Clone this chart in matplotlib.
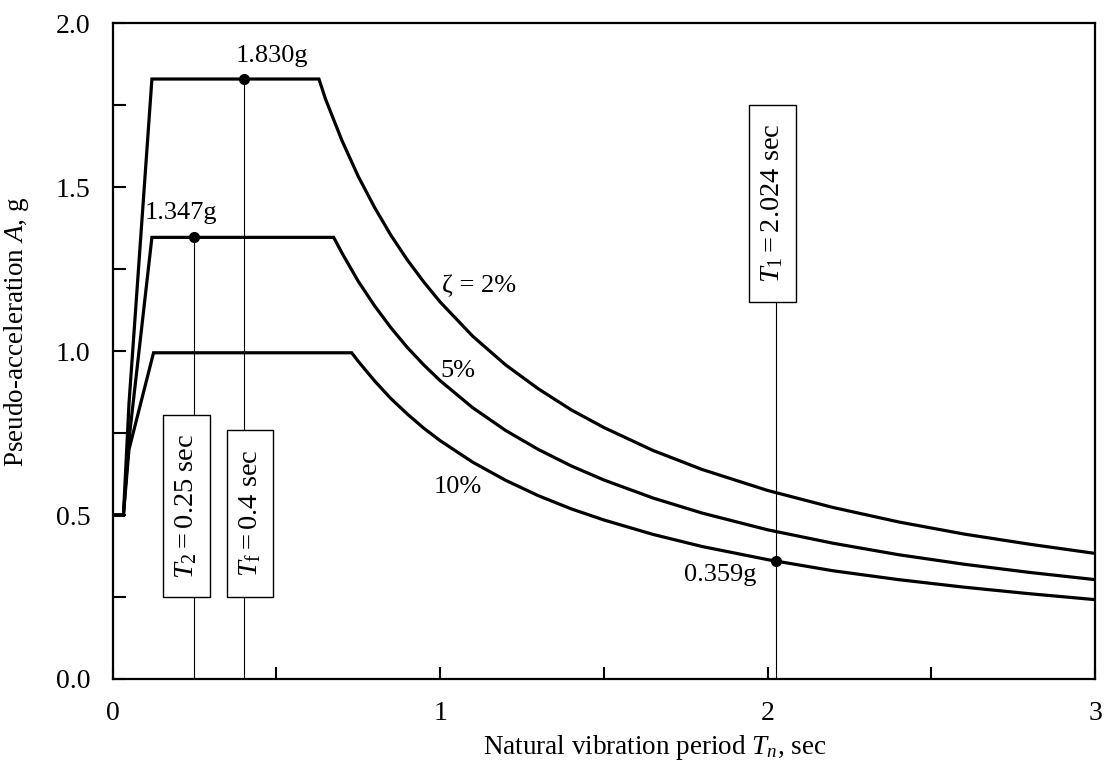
import matplotlib
matplotlib.use("Agg")
import matplotlib.pyplot as plt
from matplotlib.patches import Rectangle
from matplotlib.ticker import MultipleLocator, FuncFormatter

plt.rcParams['font.family'] = ['Liberation Serif', 'DejaVu Serif']
plt.rcParams['mathtext.fontset'] = 'custom'
plt.rcParams['mathtext.rm'] = 'Liberation Serif'
plt.rcParams['mathtext.it'] = 'Liberation Serif:italic'

# Spectrum values (T in sec, A in g)
T_2pct = [0.0, 0.033, 0.05, 0.12, 0.63, 0.65, 0.7, 0.75, 0.8, 0.85, 0.9, 0.95, 1.0, 1.1, 1.2, 1.3,
          1.4, 1.5, 1.65, 1.8, 2.0, 2.2, 2.4, 2.6, 2.8, 3.0]
A_2pct = [0.5, 0.5, 0.84, 1.83, 1.83, 1.769, 1.643, 1.533, 1.438, 1.353, 1.278, 1.211, 1.15, 1.045,
          0.958, 0.885, 0.821, 0.767, 0.697, 0.639, 0.575, 0.523, 0.479, 0.442, 0.411, 0.383]

T_5pct = [0.0, 0.033, 0.05, 0.12, 0.675, 0.7, 0.75, 0.8, 0.85, 0.9, 0.95, 1.0, 1.1, 1.2, 1.3,
          1.4, 1.5, 1.65, 1.8, 2.0, 2.2, 2.4, 2.6, 2.8, 3.0]
A_5pct = [0.5, 0.5, 0.73, 1.347, 1.347, 1.30, 1.213, 1.138, 1.071, 1.011, 0.958, 0.91, 0.827,
          0.758, 0.70, 0.65, 0.607, 0.552, 0.506, 0.455, 0.414, 0.379, 0.35, 0.325, 0.303]

T_10pct = [0.0, 0.033, 0.05, 0.125, 0.73, 0.75, 0.8, 0.85, 0.9, 0.95, 1.0, 1.1, 1.2, 1.3,
           1.4, 1.5, 1.65, 1.8, 2.0, 2.2, 2.4, 2.6, 2.8, 3.0]
A_10pct = [0.5, 0.5, 0.70, 0.995, 0.995, 0.969, 0.909, 0.855, 0.808, 0.765, 0.727, 0.661,
           0.606, 0.559, 0.519, 0.485, 0.441, 0.404, 0.364, 0.330, 0.303, 0.280, 0.260, 0.242]

# Marked periods and their spectral values
mark_T = [0.4, 0.25, 2.024]
mark_A = [1.830, 1.347, 0.359]
mark_text = ["1.830g", "1.347g", "0.359g"]

fig = plt.figure(figsize=(11.04, 7.66), dpi=100)
ax = fig.add_axes([0.102, 0.1136, 0.890, 0.856])

for T, A in [(T_2pct, A_2pct), (T_5pct, A_5pct), (T_10pct, A_10pct)]:
    ax.plot(T, A, color='black', lw=2.3, solid_joinstyle='miter', zorder=3)

# thin vertical lines at the periods
ax.plot([mark_T[0], mark_T[0]], [0, mark_A[0]], color='black', lw=0.8, zorder=2)
ax.plot([mark_T[1], mark_T[1]], [0, mark_A[1]], color='black', lw=0.8, zorder=2)
ax.plot([mark_T[2], mark_T[2]], [0, 1.15], color='black', lw=0.8, zorder=2)
ax.plot(mark_T, mark_A, 'o', color='black', ms=7, zorder=5)

fs = 19
ax.text(0.486, 1.90, mark_text[0], fontsize=fs, ha='center', va='center')
ax.text(0.21, 1.42, mark_text[1], fontsize=fs, ha='center', va='center')
ax.text(1.855, 0.317, mark_text[2], fontsize=fs, ha='center', va='center')

# period boxes: (left, right, bottom, top) in data units
boxes = [
    ((0.153, 0.297, 0.25, 0.805), r"$T_2 = 0.25$ sec"),
    ((0.349, 0.489, 0.25, 0.76), r"$T_{\mathrm{f}} = 0.4$ sec"),
    ((1.942, 2.086, 1.15, 1.75), r"$T_1 = 2.024$ sec"),
]
for (x0, x1, y0, y1), label in boxes:
    ax.add_patch(Rectangle((x0, y0), x1 - x0, y1 - y0, fc='white', ec='black', lw=1.0, zorder=4))
    ax.text((x0 + x1) / 2, (y0 + y1) / 2, label, fontsize=20.5, rotation=90,
            ha='center', va='center', zorder=6)

# damping labels
ax.text(1.12, 1.20, "ζ = 2%", fontsize=fs, ha='center', va='center')
ax.text(1.055, 0.94, "5%", fontsize=fs, ha='center', va='center')
ax.text(1.055, 0.585, "10%", fontsize=fs, ha='center', va='center')

ax.set_xlim(0, 3)
ax.set_ylim(0, 2)
ax.xaxis.set_major_locator(MultipleLocator(1))
ax.xaxis.set_minor_locator(MultipleLocator(0.5))
ax.yaxis.set_major_locator(MultipleLocator(0.5))
ax.yaxis.set_minor_locator(MultipleLocator(0.25))
ax.xaxis.set_major_formatter(FuncFormatter(lambda v, p: f"{v:.0f}"))
ax.yaxis.set_major_formatter(FuncFormatter(lambda v, p: f"{v:.1f}"))
ax.tick_params(which='both', direction='in', length=9, width=1.5, labelsize=20)
ax.tick_params(axis='x', which='major', pad=16)
ax.tick_params(axis='y', which='major', pad=16)
for s in ax.spines.values():
    s.set_linewidth(1.6)

ax.set_xlabel(r"Natural vibration period $T_n$, sec", fontsize=19.5)
ax.set_ylabel(r"Pseudo-acceleration $A$, g", fontsize=19.5)
ax.xaxis.set_label_coords(0.552, -0.082)
ax.yaxis.set_label_coords(-0.083, 0.53)

fig.savefig("out.png", dpi=100)
